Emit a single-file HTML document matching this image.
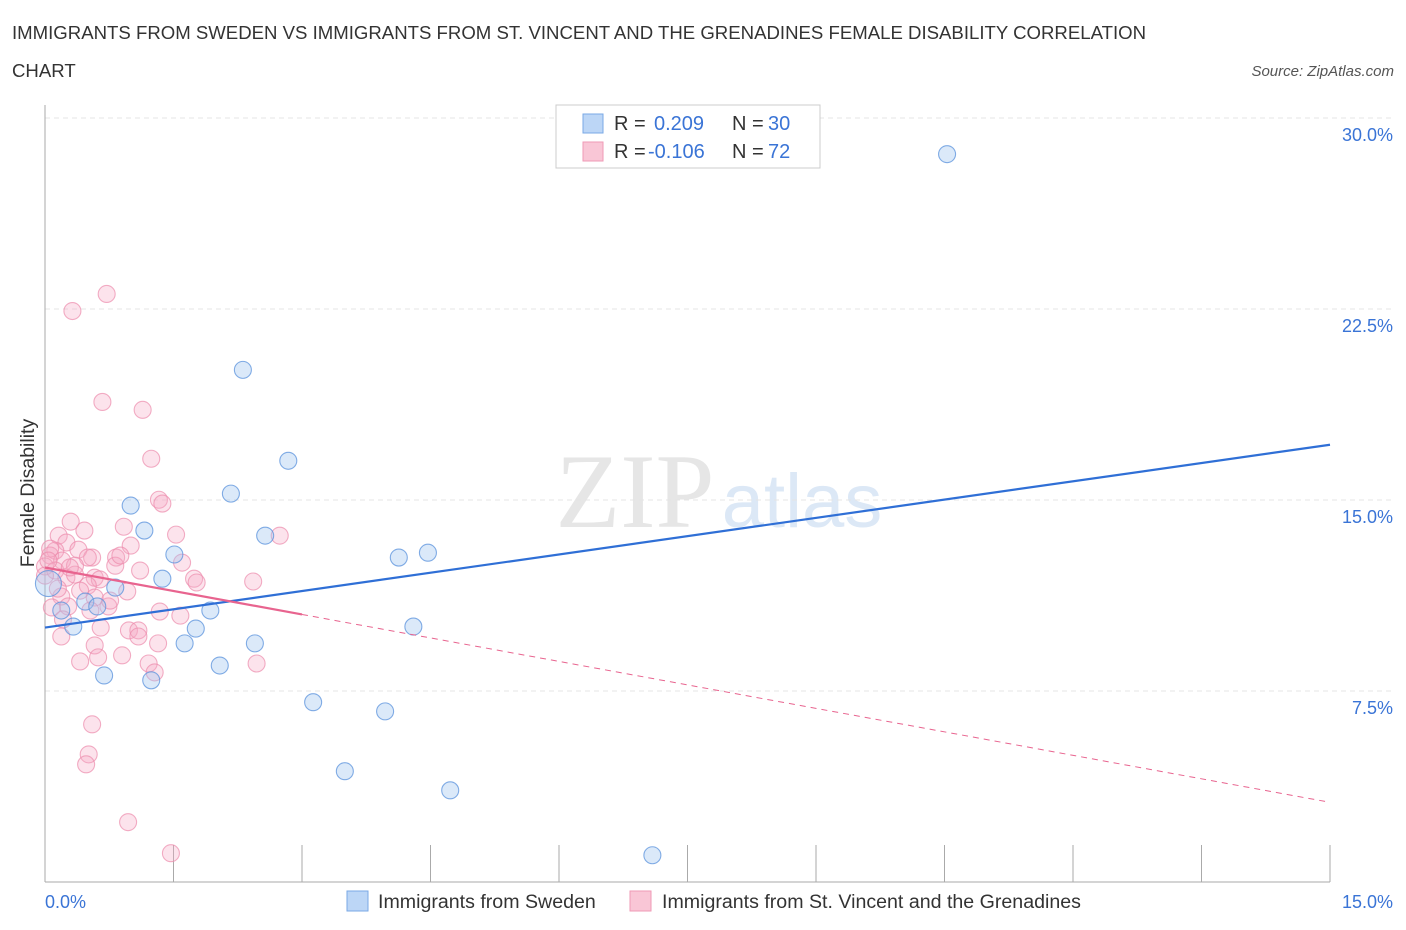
<!DOCTYPE html>
<html><head><meta charset="utf-8"><style>
body{margin:0;background:#fff;font-family:"Liberation Sans",sans-serif;}
svg{display:block}
</style></head><body>
<svg id="chart" width="1406" height="930">
<text x="12" y="39" font-size="18.6" fill="#333">IMMIGRANTS FROM SWEDEN VS IMMIGRANTS FROM ST. VINCENT AND THE GRENADINES FEMALE DISABILITY CORRELATION</text>
<text x="12" y="77" font-size="18.6" fill="#333">CHART</text>
<text x="1394" y="76" font-size="15" fill="#555" font-style="italic" text-anchor="end">Source: ZipAtlas.com</text>
<text x="635" y="527" font-size="106" fill="#e6e6e6" font-family="Liberation Serif,serif" text-anchor="middle">ZIP</text>
<text x="802" y="527" font-size="76" fill="#dce8f6" text-anchor="middle">atlas</text>
<g id="grid"></g>
<g id="axes"></g>
<g id="marks"></g>
<g>
<rect x="556" y="105" width="264" height="63" fill="#fff" stroke="#ccc"/>
<rect x="583" y="114" width="20" height="19" fill="#bcd6f6" stroke="#7aa8e6"/>
<text x="614" y="130" font-size="20" fill="#333">R = </text><text x="654" y="130" font-size="20" fill="#3a74d6">0.209</text>
<text x="732" y="130" font-size="20" fill="#333">N = </text><text x="768" y="130" font-size="20" fill="#3a74d6">30</text>
<rect x="583" y="142" width="20" height="19" fill="#f9c6d6" stroke="#ef9ab6"/>
<text x="614" y="158" font-size="20" fill="#333">R = </text><text x="648" y="158" font-size="20" fill="#3a74d6">-0.106</text>
<text x="732" y="158" font-size="20" fill="#333">N = </text><text x="768" y="158" font-size="20" fill="#3a74d6">72</text>
</g>
<text x="34" y="493" font-size="19.5" fill="#333" text-anchor="middle" transform="rotate(-90 34 493)">Female Disability</text>
<text x="45" y="908" font-size="18" fill="#3a74d6">0.0%</text>
<text x="1393" y="908" font-size="18" fill="#3a74d6" text-anchor="end">15.0%</text>
<g><rect x="347" y="891" width="21" height="20" fill="#bcd6f6" stroke="#7aa8e6"/><text x="378" y="908" font-size="19.6" fill="#333">Immigrants from Sweden</text></g>
<g><rect x="630" y="891" width="21" height="20" fill="#f9c6d6" stroke="#ef9ab6"/><text x="662" y="908" font-size="19.6" fill="#333">Immigrants from St. Vincent and the Grenadines</text></g>
</svg>
<script>
const yTicks=[7.5,15,22.5,30];
const yTickLabels=["7.5%","15.0%","22.5%","30.0%"];
const xTicks=[0,1.5,3,4.5,6,7.5,9,10.5,12,13.5,15];
const swedenX=[10.53,2.31,2.84,2.17,1.00,1.16,2.57,1.51,4.13,4.47,1.37,0.82,0.47,0.61,0.19,1.93,0.04,0.33,1.76,1.63,2.45,4.30,2.04,0.69,1.24,3.13,3.97,3.50,4.73,7.09];
const swedenY=[28.58,20.11,16.54,15.25,14.78,13.80,13.60,12.86,12.74,12.93,11.91,11.56,11.01,10.82,10.66,10.66,11.72,10.03,9.95,9.37,9.37,10.03,8.50,8.11,7.92,7.06,6.70,4.35,3.60,1.05];
const vincentX=[0.72,0.32,0.67,1.14,1.24,1.33,1.37,0.30,0.46,0.92,1.53,2.74,0.16,0.25,1.00,0.12,0.39,0.55,0.83,
0.50,0.06,0.20,0.00,0.12,0.35,0.82,1.60,0.25,0.58,0.35,0.64,1.74,1.77,2.43,0.50,0.96,0.19,0.58,0.27,0.74,0.53,1.34,1.58,0.08,0.21,0.65,0.98,1.09,1.09,0.19,0.58,1.32,0.90,0.62,0.41,1.21,1.28,2.47,0.55,0.51,0.48,0.97,1.47,
0,0.06,0.29,0.15,0.41,0.88,1.11,0.04,0.76];
const vincentY=[23.09,22.42,18.85,18.54,16.62,15.01,14.86,14.15,13.80,13.95,13.64,13.60,13.60,13.33,13.21,13.01,13.05,12.74,12.74,
12.74,12.82,12.62,12.39,12.23,12.42,12.42,12.54,11.95,11.95,12.07,11.88,11.91,11.76,11.80,11.64,11.41,11.21,11.17,10.82,10.82,10.66,10.62,10.46,10.78,10.31,9.99,9.88,9.88,9.64,9.64,9.29,9.37,8.90,8.82,8.66,8.58,8.23,8.58,6.19,5.01,4.62,2.35,1.13,
12.03,13.09,12.35,11.52,11.44,12.82,12.23,12.62,11.05];
const swedenTrend=[9.99,17.17];
const vincentTrend=[12.35,3.13];
const vincentSolidEnd=3;
const NS="http://www.w3.org/2000/svg";
const X=v=>45+v*(1285/15);
const Y=v=>882-v*(764/30);
function mk(tag,attrs,parent){const e=document.createElementNS(NS,tag);for(const k in attrs)e.setAttribute(k,attrs[k]);parent.appendChild(e);return e;}
const grid=document.getElementById('grid'),axes=document.getElementById('axes'),marks=document.getElementById('marks');
yTicks.forEach((t,i)=>{
 const l=mk('line',{x1:45,x2:1395,y1:Y(t),y2:Y(t),stroke:'#e4e4e4','stroke-dasharray':'5,4'},grid);
 
 
 const tx=mk('text',{x:1393,y:Y(t)+23,'font-size':18,fill:'#3a74d6','text-anchor':'end'},grid);
 tx.textContent=yTickLabels[i];
 
 
});
const ya=mk('line',{x1:45,x2:45,y1:105,y2:882,stroke:'#aaa'},axes);


const xa=mk('line',{x1:45,x2:1330,y1:882,y2:882,stroke:'#aaa'},axes);


xTicks.forEach(t=>{const l=mk('line',{x1:X(t),x2:X(t),y1:845,y2:882,stroke:'#aaa'},axes);
 
 });
function pts(xs,ys,fill,stroke,name){xs.forEach((x,i)=>{
 const r=(name==='sweden-point'&&i===16)?13:8.5;
 const c=mk('circle',{cx:X(x),cy:Y(ys[i]),r:r,fill:fill,stroke:stroke,'stroke-width':1.1},marks);
 
 });}
pts(vincentX,vincentY,'rgba(246,170,196,0.33)','rgba(236,140,172,0.7)','vincent-point');
pts(swedenX,swedenY,'rgba(160,196,240,0.38)','rgba(90,145,220,0.75)','sweden-point');
const bt=mk('line',{x1:X(0),y1:Y(swedenTrend[0]),x2:X(15),y2:Y(swedenTrend[1]),stroke:'#2f6fd6','stroke-width':2.2},marks);


const vm=v=>vincentTrend[0]+(vincentTrend[1]-vincentTrend[0])*v/15;
const pt=mk('line',{x1:X(0),y1:Y(vm(0)),x2:X(vincentSolidEnd),y2:Y(vm(vincentSolidEnd)),stroke:'#e8648f','stroke-width':2.2},marks);


const pd=mk('line',{x1:X(vincentSolidEnd),y1:Y(vm(vincentSolidEnd)),x2:X(15),y2:Y(vm(15)),stroke:'#e8648f','stroke-width':1,'stroke-dasharray':'6,5'},marks);


</script>
</body></html>
